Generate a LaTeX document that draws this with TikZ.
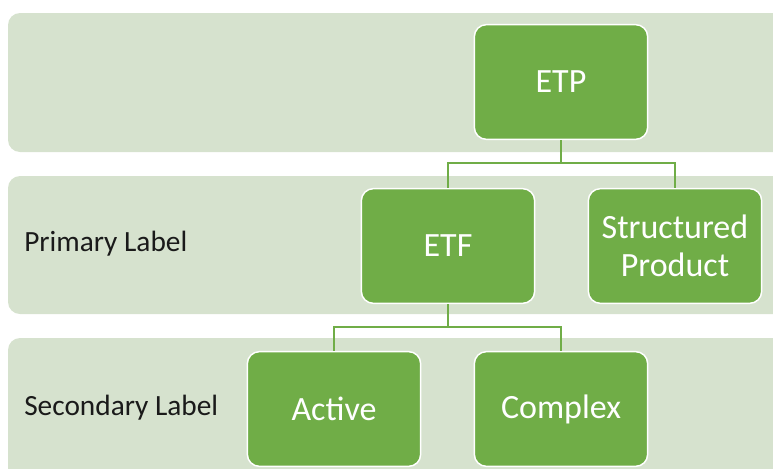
\documentclass[tikz,border=0pt]{standalone}
\usepackage{fontspec}
\setmainfont{Carlito}
\usepackage{xcolor}
\definecolor{TierBand}{HTML}{D6E2CE}
\definecolor{TierGreen}{HTML}{70AD47}
\definecolor{TierText}{HTML}{1A1A1A}
\usetikzlibrary{calc, positioning}

\tikzset{
  band/.style={fill=TierBand, rounded corners=9pt},
  tierbox/.style={draw=white, fill=TierGreen, line width=1.1pt,
    rounded corners=9pt, minimum width=130pt, minimum height=86pt,
    text=white, align=center, font=\fontsize{25.5}{28.5}\selectfont},
  tierlabel/.style={anchor=west, text=TierText, inner sep=0pt,
    font=\fontsize{22}{25}\selectfont},
  link/.style={draw=TierGreen, line width=1.5pt}
}

\begin{document}
\begin{tikzpicture}[x=0.75pt, y=-0.75pt]
\useasboundingbox (0,0) rectangle (773,468);

% the three tiers
\fill[band] (8,13)  rectangle (800,152);
\fill[band] (8,176) rectangle (800,314);
\fill[band] (8,338) rectangle (800,500);

\node[tierlabel] (primary)   at (24,244) {Primary Label};
\node[tierlabel] (secondary) at (24,408) {Secondary Label};

% boxes
\node[tierbox] (etp)     at (561,82)  {ETP};
\node[tierbox] (etf)     at (448,246) {ETF};
\node[tierbox] (struct)  at (675,246) {Structured\\Product};
\node[tierbox] (active)  at (334,409) {Active};
\node[tierbox] (complex) at (561,409) {Complex};

% tree connectors
\draw[link] (etp.south) -- ++(0,23) -| (etf.north);
\draw[link] (etp.south) -- ++(0,23) -| (struct.north);
\draw[link] (etf.south) -- ++(0,23) -| (active.north);
\draw[link] (etf.south) -- ++(0,23) -| (complex.north);
\end{tikzpicture}
\end{document}
